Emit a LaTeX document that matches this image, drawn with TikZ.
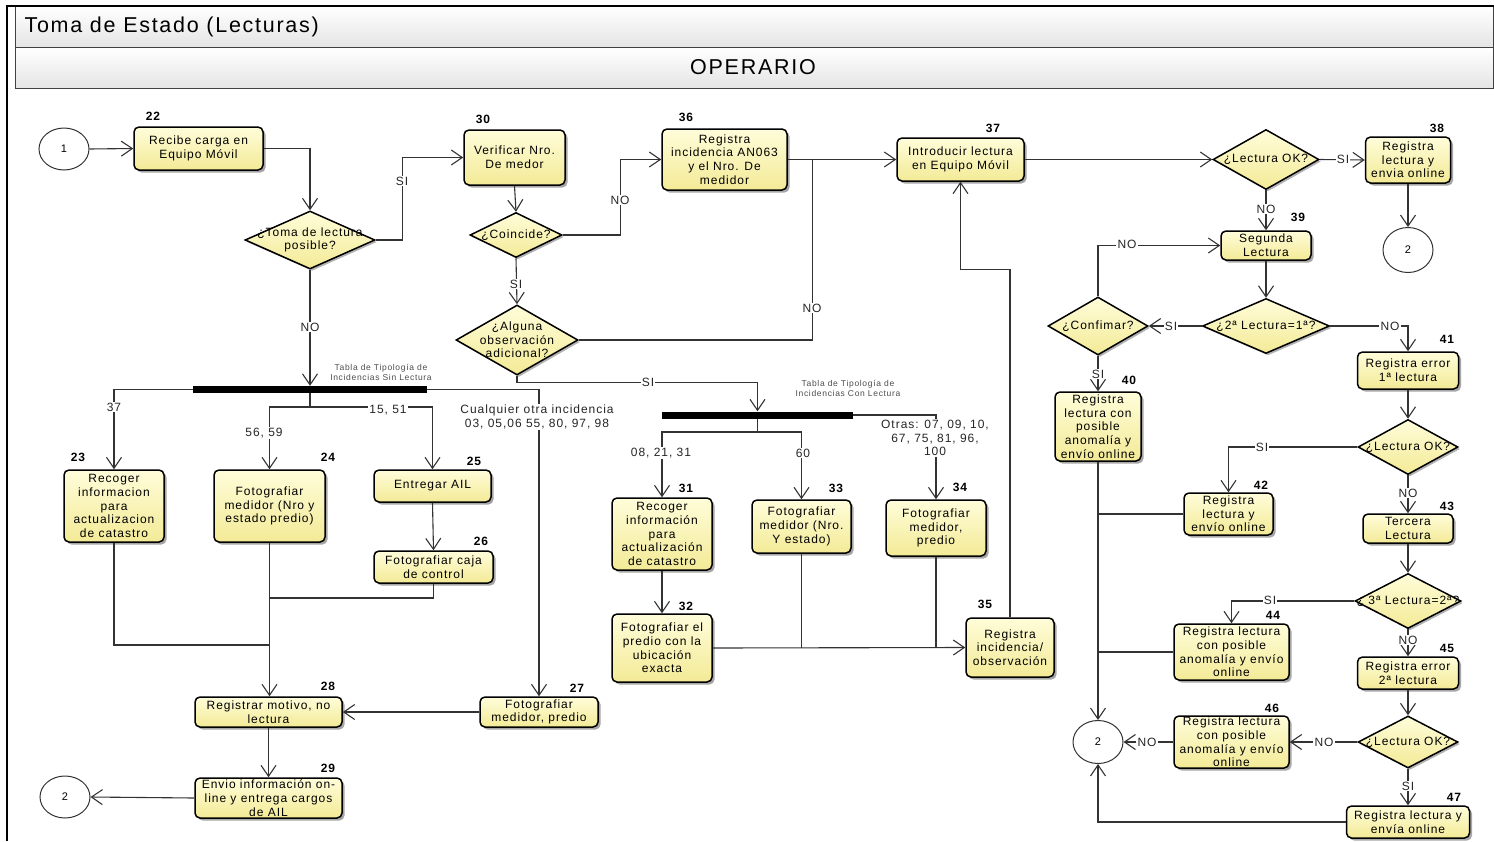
\documentclass[tikz,border=0pt]{standalone}
\usepackage{fontspec}
\setmainfont{Liberation Sans}[LetterSpace=8]
\usetikzlibrary{arrows.meta,shapes.geometric,shadows}

\definecolor{ylt}{HTML}{FFFDDA}
\definecolor{ydk}{HTML}{F3EA96}
\definecolor{linec}{HTML}{333333}
\definecolor{hdrbot}{HTML}{E4E4E4}

\tikzset{
  txt/.style={font=\fontsize{12}{13.7}\selectfont},
  act/.style={txt, draw=black, line width=1.5pt, rounded corners=5pt,
    top color=ylt, bottom color=ydk, align=center, inner sep=0pt,
    drop shadow={shadow xshift=2.5pt, shadow yshift=-2.5pt, fill=black, opacity=0.35}},
  dec/.style={diamond, draw=black, line width=1.5pt, top color=ylt, bottom color=ydk,
    inner sep=0pt,
    drop shadow={shadow xshift=2pt, shadow yshift=-2pt, fill=black, opacity=0.3}},
  dtxt/.style={txt, align=center, inner sep=0pt},
  term/.style={ellipse, draw=linec, line width=1pt, fill=white, inner sep=0pt,
    minimum width=50pt, minimum height=43pt, font=\fontsize{11}{11}\selectfont},
  bar/.style={fill=black, inner sep=0pt, minimum height=7pt},
  conn/.style={draw=linec, line width=1.1pt, -{Straight Barb[length=11pt,width=15pt]}},
  link/.style={draw=linec, line width=1.1pt},
  lbl/.style={txt, text=black!85, fill=white, inner sep=1.2pt, align=center},
  num/.style={font=\fontsize{12}{12}\selectfont\bfseries},
  note/.style={font=\fontsize{8.5}{10}\selectfont, text=black!70, align=center},
  hdr/.style={draw=black!75, line width=1.2pt, top color=white, bottom color=hdrbot,
    inner sep=0pt, minimum width=1478pt, minimum height=41pt, anchor=north west},
}

\begin{document}
\begin{tikzpicture}[x=1pt,y=-1pt]
\useasboundingbox (0,0) rectangle (1494,841);

% frame and header bands
\node[hdr] (hdrA) at (15,6) {};
\node[hdr] (hdrB) at (15,47) {};
\draw[line width=2pt] (7,841) -- (7,6) -- (1494,6);
\node[font=\fontsize{21.5}{21.5}\selectfont, anchor=west] (ttl) at (21,27) {Toma de Estado (Lecturas)};
\node[font=\fontsize{21.5}{21.5}\selectfont] (role) at (753,67.5) {OPERARIO};

% terminators
\node[term, minimum height=42pt] (c1) at (64,149) {1};
\node[term, minimum height=45pt] (c2a) at (1408,250) {2};
\node[term] (c2b) at (1098,742) {2};
\node[term, minimum height=42pt] (c3) at (65,797) {2};

% activities
\node[act, minimum width=129, minimum height=43] (b22) at (198.5,148.5) {Recibe carga en\\Equipo Móvil};
\node[act, minimum width=101, minimum height=55] (b30) at (514.5,157.5) {Verificar Nro.\\De medor};
\node[act, minimum width=125, minimum height=61] (b36) at (724.5,159.5) {Registra\\incidencia AN063\\y el Nro. De\\medidor};
\node[act, minimum width=127, minimum height=43] (b37) at (960.5,159.5) {Introducir lectura\\en Equipo Móvil};
\node[act, minimum width=85, minimum height=46] (b38) at (1408,160) {Registra\\lectura y\\envia online};
\node[act, minimum width=90, minimum height=29] (b39) at (1266,245.5) {Segunda\\Lectura};
\node[act, minimum width=86, minimum height=69] (b40) at (1098,426.5) {Registra\\lectura con\\posible\\anomalía y\\envío online};
\node[act, minimum width=101, minimum height=37] (b41) at (1408,370.5) {Registra error\\1ª lectura};
\node[act, minimum width=89, minimum height=42] (b42) at (1228.5,514) {Registra\\lectura y\\envío online};
\node[act, minimum width=90, minimum height=29] (b43) at (1408,528.5) {Tercera\\Lectura};
\node[act, minimum width=115, minimum height=56] (b44) at (1231.5,652) {Registra lectura\\con posible\\anomalía y envío\\online};
\node[act, minimum width=101, minimum height=32] (b45) at (1408,673) {Registra error\\2ª lectura};
\node[act, minimum width=115, minimum height=52] (b46) at (1231.5,742) {Registra lectura\\con posible\\anomalía y envío\\online};
\node[act, minimum width=123, minimum height=32] (b47) at (1408,822) {Registra lectura y\\envía online};
\node[act, minimum width=100, minimum height=72] (b23) at (114,506) {Recoger\\informacion\\para\\actualizacion\\de catastro};
\node[act, minimum width=111, minimum height=72] (b24) at (269.5,506) {Fotografiar\\medidor (Nro y\\estado predio)};
\node[act, minimum width=117, minimum height=32] (b25) at (432.5,486) {Entregar AIL};
\node[act, minimum width=119, minimum height=32] (b26) at (433.5,567) {Fotografiar caja\\de control};
\node[act, minimum width=118, minimum height=30] (b27) at (539,712) {Fotografiar\\medidor, predio};
\node[act, minimum width=147, minimum height=30] (b28) at (268.5,712) {Registrar motivo, no\\lectura};
\node[act, minimum width=147, minimum height=40] (b29) at (268.5,798) {Envio información on-\\line y entrega cargos\\de AIL};
\node[act, minimum width=100, minimum height=72] (b31) at (662,534) {Recoger\\información\\para\\actualización\\de catastro};
\node[act, minimum width=100, minimum height=68] (b32) at (662,648) {Fotografiar el\\predio con la\\ubicación\\exacta};
\node[act, minimum width=99, minimum height=53] (b33) at (801.5,526.5) {Fotografiar\\medidor (Nro.\\Y estado)};
\node[act, minimum width=100, minimum height=56] (b34) at (936,528) {Fotografiar\\medidor,\\predio};
\node[act, minimum width=88, minimum height=59] (b35) at (1010,647.5) {Registra\\incidencia/\\observación};

% decisions
\node[dec, minimum width=130, minimum height=58] (d1) at (310,240) {};
\node[dtxt] (d1t) at (d1) {¿Toma de lectura\\posible?};
\node[dec, minimum width=92, minimum height=45] (dc) at (516,235) {};
\node[dtxt] (dct) at (dc) {¿Coincide?};
\node[dec, minimum width=122, minimum height=70] (da) at (517,340) {};
\node[dtxt] (dat) at (da) {¿Alguna\\observación\\adicional?};
\node[dec, minimum width=106, minimum height=60] (dl1) at (1266,159.5) {};
\node[dtxt] (dl1t) at (dl1) {¿Lectura OK?};
\node[dec, minimum width=127, minimum height=55] (d2) at (1266,326) {};
\node[dtxt] (d2t) at (d2) {¿2ª Lectura=1ª?};
\node[dec, minimum width=100, minimum height=58] (dcf) at (1098,326) {};
\node[dtxt] (dcft) at (dcf) {¿Confimar?};
\node[dec, minimum width=100, minimum height=55] (dl2) at (1408,447) {};
\node[dtxt] (dl2t) at (dl2) {¿Lectura OK?};
\node[dec, minimum width=106, minimum height=55] (d3) at (1408,601) {};
\node[dtxt] (d3t) at (d3) {¿ 3ª Lectura=2ª?};
\node[dec, minimum width=100, minimum height=52] (dl3) at (1408,742) {};
\node[dtxt] (dl3t) at (dl3) {¿Lectura OK?};

% fork bars
\node[bar, minimum width=234] (bar1) at (310,389.5) {};
\node[bar, minimum width=191] (bar2) at (757.5,415) {};
\node[note] (tab1) at (381,372) {Tabla de Tipología de\\Incidencias Sin Lectura};
\node[note] (tab2) at (848,388) {Tabla de Tipología de\\Incidencias Con Lectura};

% step numbers
\node[num] (n22) at (153,116) {22};
\node[num] (n30) at (483,119) {30};
\node[num] (n36) at (686,117) {36};
\node[num] (n37) at (993,128) {37};
\node[num] (n38) at (1437,128) {38};
\node[num] (n39) at (1298,217) {39};
\node[num] (n40) at (1129,380) {40};
\node[num] (n41) at (1447,339) {41};
\node[num] (n42) at (1261,485) {42};
\node[num] (n43) at (1447,506) {43};
\node[num] (n44) at (1273,615) {44};
\node[num] (n45) at (1447,648) {45};
\node[num] (n46) at (1272,708) {46};
\node[num] (n47) at (1454,797) {47};
\node[num] (n23) at (78,457) {23};
\node[num] (n24) at (328,457) {24};
\node[num] (n25) at (474,461) {25};
\node[num] (n26) at (481,541) {26};
\node[num] (n27) at (577,688) {27};
\node[num] (n28) at (328,686) {28};
\node[num] (n29) at (328,768) {29};
\node[num] (n31) at (686,488) {31};
\node[num] (n32) at (686,606) {32};
\node[num] (n33) at (836,488) {33};
\node[num] (n34) at (960,487) {34};
\node[num] (n35) at (985,604) {35};

% junction points
\coordinate (j1) at (310,407);
\coordinate (j2) at (270,645);
\coordinate (j3) at (270,598);
\coordinate (j4) at (757.5,432);
\path (b36.east) -- (b37.west) coordinate[pos=0.227] (j5);

% connectors: upper flow
\draw[conn] (c1.east) -- (b22.west);
\draw[conn] (b22.east) -| (d1.north);
\draw[conn] (d1.east) -- ++(27,0) |- (b30.west);
\draw[conn] (b30.south) -- (dc.north);
\draw[conn] (dc.east) -- ++(58,0) |- (b36.west);
\draw[conn] (dc.south) -- (da.north);
\draw[conn] (b36.east) -- (b37.west);
\draw[link] (da.east) -| (j5);
\draw[conn] (da.south) -- ++(0,7) -| (bar2.north);
\draw[conn] (d1.south) -- (bar1.north);

% connectors: without reading
\draw[conn] (bar1.west) -| (b23.north);
\draw[conn] (bar1.east) -| (b27.north);
\draw[link] (bar1.south) -- (j1);
\draw[conn] (j1) -| (b24.north);
\draw[conn] (j1) -| (b25.north);
\draw[conn] (b25.south) -- (b26.north);
\draw[link] (b26.south) |- (j3);
\draw[link] (b23.south) |- (j2);
\draw[conn] (b24.south) -- (b24.south |- b28.north);
\draw[conn] (b27.west) -- (b28.east);
\draw[conn] (b28.south) -- (b29.north);
\draw[conn] (b29.west) -- (c3.east);

% connectors: with reading
\draw[conn] (bar2.east) -| (b34.north);
\draw[link] (bar2.south) -- (j4);
\draw[conn] (j4) -| (b31.north);
\draw[conn] (j4) -| (b33.north);
\draw[conn] (b31.south) -- (b32.north);
\draw[conn] (b32.east) -- (b35.west);
\draw[link] (b33.south) -- (b33.south |- b32.east);
\draw[link] (b34.south) -- (b34.south |- b32.east);
\draw[conn] (b35.north) -- ++(0,-348) -| (b37.south);

% connectors: reading validation
\draw[conn] (b37.east) -- (dl1.west);
\draw[conn] (dl1.east) -- (b38.west);
\draw[conn] (b38.south) -- (c2a.north);
\draw[conn] (dl1.south) -- (b39.north);
\draw[conn] (b39.south) -- (d2.north);
\draw[conn] (d2.west) -- (dcf.east);
\draw[conn] (dcf.north) |- (b39.west);
\draw[conn] (dcf.south) -- (b40.north);
\draw[conn] (d2.east) -| (b41.north);
\draw[conn] (b41.south) -- (dl2.north);
\draw[conn] (dl2.west) -| (b42.north);
\draw[conn] (dl2.south) -- (b43.north);
\draw[conn] (b43.south) -- (d3.north);
\draw[conn] (d3.west) -| (b44.north);
\draw[conn] (d3.south) -- (b45.north);
\draw[conn] (b45.south) -- (dl3.north);
\draw[conn] (dl3.west) -- (b46.east);
\draw[conn] (b46.west) -- (c2b.east);
\draw[conn] (dl3.south) -- (b47.north);
\draw[conn] (b47.west) -| (c2b.south);
\draw[conn] (b40.south) -- (c2b.north);
\draw[link] (b42.west) -- (b42.west -| b40.south);
\draw[link] (b44.west) -- (b44.west -| b40.south);

% branch labels
\node[lbl] (l1) at (402,181) {SI};
\node[lbl] (l2) at (620,200) {NO};
\node[lbl] (l3) at (516,284) {SI};
\node[lbl] (l4) at (812,308) {NO};
\node[lbl] (l5) at (648,382) {SI};
\node[lbl] (l6) at (310,327) {NO};
\node[lbl] (l7) at (114,407) {37};
\node[lbl] (l8) at (264,433) {56, 59};
\node[lbl] (l9) at (388,410) {15, 51};
\node[lbl] (l10) at (537,417) {Cualquier otra incidencia\\03, 05,06 55, 80, 97, 98};
\node[lbl] (l11) at (661,453) {08, 21, 31};
\node[lbl] (l12) at (803,453) {60};
\node[lbl] (l13) at (935,438) {Otras: 07, 09, 10,\\67, 75, 81, 96,\\100};
\node[lbl] (l14) at (1343,159.5) {SI};
\node[lbl] (l15) at (1266,209) {NO};
\node[lbl] (l16) at (1127,244) {NO};
\node[lbl] (l17) at (1171,326) {SI};
\node[lbl] (l18) at (1098,374) {SI};
\node[lbl] (l19) at (1390,326) {NO};
\node[lbl] (l20) at (1262,447) {SI};
\node[lbl] (l21) at (1408,493) {NO};
\node[lbl] (l22) at (1270,600) {SI};
\node[lbl] (l23) at (1408,640) {NO};
\node[lbl] (l24) at (1324,742) {NO};
\node[lbl] (l25) at (1147,742) {NO};
\node[lbl] (l26) at (1408,786) {SI};
\end{tikzpicture}
\end{document}
